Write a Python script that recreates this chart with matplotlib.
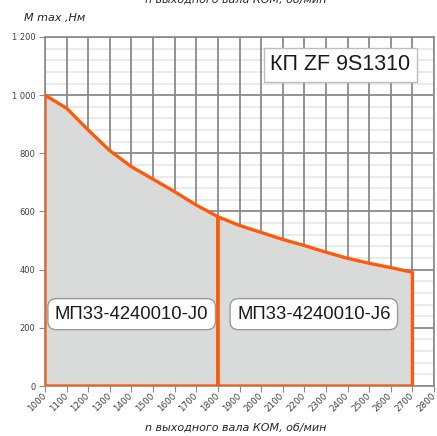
import matplotlib
matplotlib.use("Agg")
import matplotlib.pyplot as plt
import numpy as np
from matplotlib.patches import Polygon
from matplotlib.transforms import ScaledTranslation

# ---- data ----
rpm = [1000, 1100, 1200, 1300, 1400, 1500, 1600, 1700, 1800,
       1900, 2000, 2100, 2200, 2300, 2400, 2500, 2600, 2700]
torque = [1000, 955, 880, 809, 754, 711, 668, 622, 582,
          552, 528, 504, 483, 460, 439, 422, 407, 391]
split_rpm = 1800
x_ticks = list(range(1000, 2801, 100))
y_ticks = [0, 200, 400, 600, 800, 1000, 1200]
y_tick_labels = ["0", "200", "400", "600", "800", "1 000", "1 200"]
title_text = "КП ZF 9S1310"
zone_labels = ["МП33-4240010-J0", "МП33-4240010-J6"]
x_label = "n выходного вала КОМ, об/мин"
y_label = "М max ,Нм"

ORANGE = "#ff5a0a"
FILL = "#d9dbdb"
GRID = "#8a8a8a"
MINOR = "#e8e8e8"

fig = plt.figure(figsize=(4.37, 4.36), dpi=100)
ax = fig.add_axes([45/437, 1-386/436, 389/437, 349/436])
ax.set_xlim(1000, 2800)
ax.set_ylim(0, 1200)

# grid
for yv in range(0, 1201, 40):
    if yv % 200:
        ax.axhline(yv, color=MINOR, lw=1.3, zorder=0.5)
for yv in range(0, 1201, 200):
    ax.axhline(yv, color=GRID, lw=1.3, zorder=0.6)
for xv in x_ticks:
    ax.axvline(xv, color=GRID, lw=1.3, zorder=0.6)

rpm_a = np.array(rpm)
tq_a = np.array(torque)
i_split = rpm.index(split_rpm)
segs = [(rpm_a[:i_split+1], tq_a[:i_split+1]), (rpm_a[i_split:], tq_a[i_split:])]
for xs, ys in segs:
    pts = [(xs[0], 0)] + list(zip(xs, ys)) + [(xs[-1], 0)]
    ax.add_patch(Polygon(pts, closed=True, facecolor=FILL, edgecolor="none", zorder=1))
for xs, ys in segs:
    pts = [(xs[0], 0)] + list(zip(xs, ys)) + [(xs[-1], 0)]
    ax.add_patch(Polygon(pts, closed=True, facecolor="none", edgecolor=ORANGE,
                         lw=2.4, joinstyle="round", zorder=3))

for s in ax.spines.values():
    s.set_color(GRID)
    s.set_linewidth(1.2)
    s.set_zorder(0.7)
ax.spines["bottom"].set_zorder(2.5)

ax.set_xticks(x_ticks)
ax.set_xticklabels([str(v) for v in x_ticks], rotation=45, ha="right", va="center",
                   rotation_mode="anchor", fontsize=6.3, color="#404040",
                   family="DejaVu Sans")
off = ScaledTranslation(-3/100, -2/100, fig.dpi_scale_trans)
for lab in ax.get_xticklabels():
    lab.set_transform(lab.get_transform() + off)
ax.set_yticks(y_ticks)
ax.set_yticklabels(y_tick_labels, fontsize=6, color="#404040", family="DejaVu Sans")
ax.tick_params(axis="x", length=4, color=GRID, pad=2)
ax.tick_params(axis="y", length=4, color=GRID, pad=3)

# text boxes
ax.text(2366, 1105, title_text, fontsize=15.5, family="Liberation Sans",
        ha="center", va="center", color="#1a1a1a", zorder=5,
        bbox=dict(boxstyle="square,pad=0.3", fc="white", ec="#bdbdbd", lw=1))
ax.text(1401, 247, zone_labels[0], fontsize=13.3, family="Liberation Sans",
        ha="center", va="center", color="#1a1a1a", zorder=5,
        bbox=dict(boxstyle="round,pad=0.38,rounding_size=0.45", fc="white", ec="#9a9a9a", lw=1))
ax.text(2244, 247, zone_labels[1], fontsize=13.3, family="Liberation Sans",
        ha="center", va="center", color="#1a1a1a", zorder=5,
        bbox=dict(boxstyle="round,pad=0.38,rounding_size=0.45", fc="white", ec="#9a9a9a", lw=1))

fig.text(236/437, 1-428/436, x_label, fontsize=8, style="italic", ha="center",
         va="center", color="#262626", family="DejaVu Sans")
fig.text(236/437, 1.0, x_label, fontsize=8, style="italic", ha="center",
         va="center", color="#262626", family="DejaVu Sans")
fig.text(24/437, 1-18/436, y_label, fontsize=8, style="italic", ha="left",
         va="center", color="#262626", family="DejaVu Sans")

fig.savefig("out.png", dpi=100)
